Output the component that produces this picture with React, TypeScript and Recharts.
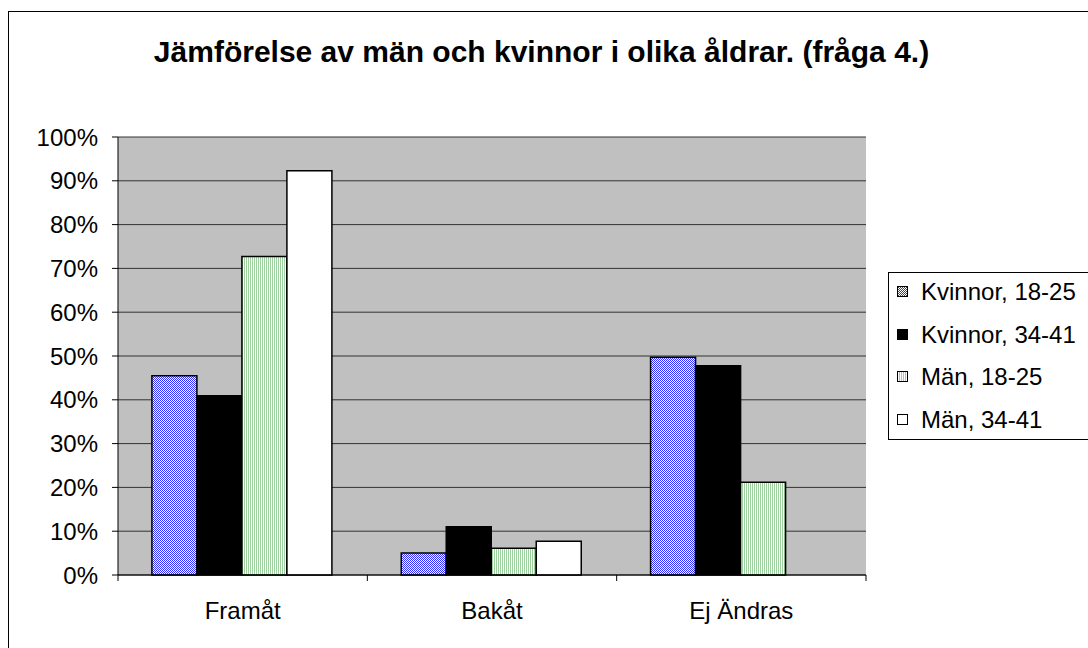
import { Bar, BarChart, CartesianGrid, XAxis, YAxis } from 'recharts';

const FONT = "'Liberation Sans', Arial, Helvetica, sans-serif";

const categories = ['Framåt', 'Bakåt', 'Ej Ändras'];
const kvinnor1825 = [45.5, 5.0, 49.7];
const kvinnor3441 = [40.9, 11.0, 47.8];
const man1825 = [72.7, 6.1, 21.2];
const man3441 = [92.3, 7.7, 0];
const yTicks = [0, 10, 20, 30, 40, 50, 60, 70, 80, 90, 100];

const series = [
  { key: 'k1825', name: 'Kvinnor, 18-25', values: kvinnor1825, fill: 'url(#checkBlue)' },
  { key: 'k3441', name: 'Kvinnor, 34-41', values: kvinnor3441, fill: '#000000' },
  { key: 'm1825', name: 'Män, 18-25', values: man1825, fill: 'url(#stripeGreen)' },
  { key: 'm3441', name: 'Män, 34-41', values: man3441, fill: '#ffffff' },
];

const data = categories.map((category, i) => {
  const row: Record<string, string | number> = { category };
  series.forEach((s) => (row[s.key] = s.values[i]));
  return row;
});

function CategoryTick(props: any) {
  const { x, y, payload, index, visibleTicksCount, width } = props;
  const half = payload?.offset ?? width / visibleTicksCount / 2;
  return (
    <g>
      <line x1={x - half} x2={x - half} y1={y} y2={y + 6} stroke="#000" />
      {index === visibleTicksCount - 1 && (
        <line x1={x + half} x2={x + half} y1={y} y2={y + 6} stroke="#000" />
      )}
      <text x={x} y={y + 44} textAnchor="middle" fill="#000" fontSize={24} fontFamily={FONT}>
        {payload.value}
      </text>
    </g>
  );
}

function Legend() {
  return (
    <div
      style={{
        position: 'absolute',
        left: 888,
        top: 272,
        width: 220,
        height: 166,
        border: '1px solid #000',
        background: '#fff',
        fontFamily: FONT,
        fontSize: 24,
        color: '#000',
      }}
    >
      <div style={{ position: 'relative', top: -2 }}>
        {series.map((s) => (
          <div key={s.key} style={{ height: 42.5, display: 'flex', alignItems: 'center', whiteSpace: 'pre' }}>
            <svg width={12} height={12} style={{ marginLeft: 8, marginRight: 12 }}>
              <rect x={0.5} y={0.5} width={10} height={10} fill={s.fill} stroke="#000" />
            </svg>
            <span>{s.name}</span>
          </div>
        ))}
      </div>
    </div>
  );
}

export default function App() {
  return (
    <div style={{ position: 'fixed', left: 0, top: 0, width: 1088, height: 648, overflow: 'hidden', background: '#fff' }}>
      <div
        style={{
          position: 'absolute',
          left: 8,
          top: 11,
          width: 1200,
          height: 800,
          border: '1px solid #000',
          background: '#fff',
        }}
      />
      <div
        style={{
          position: 'absolute',
          left: 0,
          top: 37,
          width: 1083,
          textAlign: 'center',
          fontFamily: FONT,
          fontWeight: 'bold',
          fontSize: 30,
          lineHeight: '30px',
          color: '#000',
          whiteSpace: 'nowrap',
        }}
      >
        Jämförelse av män och kvinnor i olika åldrar. (fråga 4.)
      </div>
      <div style={{ position: 'absolute', left: 0, top: 0 }}>
        <BarChart
          width={1088}
          height={648}
          data={data}
          barGap={0}
          barCategoryGap="13.6%"
          margin={{ top: 137, right: 222, bottom: 13, left: 0 }}
        >
          <defs>
            <pattern id="checkBlue" width="2" height="2" patternUnits="userSpaceOnUse">
              <rect width="2" height="2" fill="#ffffff" />
              <rect width="1" height="1" fill="#2f2fff" />
              <rect x="1" y="1" width="1" height="1" fill="#2f2fff" />
            </pattern>
            <pattern id="stripeGreen" width="2" height="2" patternUnits="userSpaceOnUse">
              <rect width="2" height="2" fill="#ffffff" />
              <rect width="1" height="2" fill="#9fd09f" />
            </pattern>
          </defs>
          <CartesianGrid vertical={false} stroke="#333" fill="#c0c0c0" fillOpacity={1} />
          <XAxis
            dataKey="category"
            height={60}
            tickLine={false}
            tickSize={0}
            tickMargin={0}
            axisLine={{ stroke: '#000' }}
            tick={<CategoryTick />}
            interval={0}
          />
          <YAxis
            width={118}
            domain={[0, 100]}
            ticks={yTicks}
            interval={0}
            tickFormatter={(v: number) => `${v}%`}
            axisLine={{ stroke: '#000' }}
            tickLine={{ stroke: '#000' }}
            tickSize={6}
            tickMargin={14}
            tick={{ fill: '#000', fontSize: 24, fontFamily: FONT }}
          />
          <YAxis
            yAxisId="right"
            orientation="right"
            width={0}
            domain={[0, 100]}
            tick={false}
            tickLine={false}
            axisLine={{ stroke: '#808080' }}
          />
          {series.map((s) => (
            <Bar
              key={s.key}
              dataKey={s.key}
              name={s.name}
              fill={s.fill}
              stroke="#000"
              strokeWidth={1.5}
              isAnimationActive={false}
            />
          ))}
        </BarChart>
      </div>
      <Legend />
    </div>
  );
}
